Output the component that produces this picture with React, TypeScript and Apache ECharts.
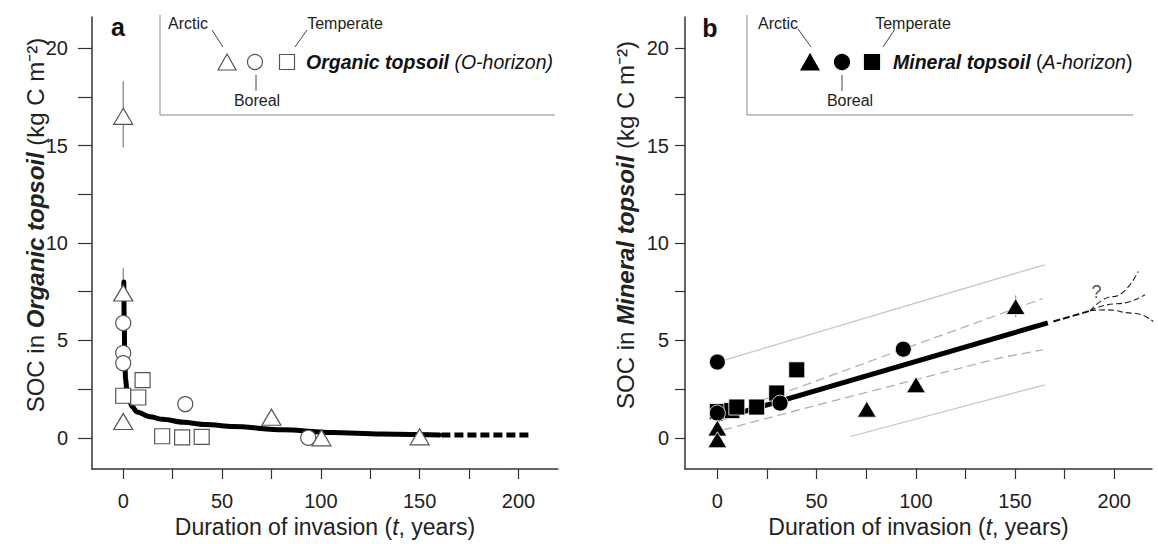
import React, { useEffect, useRef } from 'react';
import * as echarts from 'echarts';

const FONT = "'Liberation Sans', Arial, Helvetica, sans-serif";

// Tick values
const xTickLabels = [0, 50, 100, 150, 200];
const xTickMarks = [0, 25, 50, 75, 100, 125, 150, 175, 200];
const yTickLabels = [0, 5, 10, 15, 20];
const yTickMarks = [0, 2.5, 5, 7.5, 10, 12.5, 15, 17.5, 20];

// Panel a: Organic topsoil (O-horizon) — [t, SOC]
const orgArctic = [[0, 16.5], [0, 7.43], [0, 0.84], [75, 1.06], [100.3, 0.0], [150, 0.05]];
const orgBoreal = [[0, 5.89], [0, 4.35], [0, 3.83], [31.4, 1.73], [93.6, 0.0]];
const orgTemperate = [[0, 2.16], [7.6, 2.07], [9.8, 2.96], [19.7, 0.08], [29.8, 0.02], [39.7, 0.05]];
const orgErrorBars = [[0, 14.9, 18.3], [0, 6.2, 8.7]]; // [t, low, high]
const orgFitSolid = [
  [0.3, 8.0], [0.5, 6.0], [0.8, 4.0], [1.2, 3.0], [1.8, 2.5], [3, 1.95], [4.5, 1.6],
  [7, 1.33], [13.5, 1.08], [20, 0.95], [30.4, 0.8], [42, 0.68], [55.6, 0.58],
  [81, 0.41], [106, 0.27], [130, 0.2], [160, 0.15],
];
const orgFitDashed = [[161, 0.15], [206, 0.15]];

// Panel b: Mineral topsoil (A-horizon) — [t, SOC]
const minArctic = [[0, 0.5], [0, -0.1], [75.3, 1.47], [100.1, 2.72], [150.3, 6.74]];
const minBoreal = [[0, 3.89], [0, 1.27], [31.6, 1.78], [93.7, 4.55]];
const minTemperate = [[0, 1.35], [7.3, 1.4], [9.8, 1.58], [19.8, 1.58], [29.9, 2.3], [40, 3.49]];
const minErrorBars = [[150.3, 6.2, 7.3]];
const minFit = [[0, 0.95], [166.5, 5.9]];
const minFitExtension = [[169.3, 5.97], [187.8, 6.52]];
const minFanUpper = [[187.8, 6.52], [199.5, 7.25], [212.1, 8.54]];
const minFanMiddle = [[187.8, 6.52], [201.2, 6.88], [215.5, 7.34]];
const minFanLower = [[187.8, 6.52], [196.2, 6.57], [209.6, 6.4], [219.6, 5.97]];
const minConfUpper = [[3, 1.25], [40, 2.55], [94, 4.57], [164, 7.15]];
const minConfLower = [[3, 0.41], [57, 1.86], [142, 4.09], [164, 4.52]];
const minPredUpper = [[4, 4.0], [142, 8.2], [165, 8.88]];
const minPredLower = [[67, 0.07], [165, 2.72]];
const questionMark = [[191, 7.5]];

const AXIS_COLOR = '#333';

function makeX(gridIndex: number, min: number, max: number) {
  return {
    type: 'value',
    gridIndex,
    min,
    max,
    axisLine: { show: true, onZero: false, lineStyle: { color: AXIS_COLOR, width: 1.5 } },
    axisTick: { show: true, length: 10, customValues: xTickMarks, lineStyle: { color: AXIS_COLOR, width: 1.2 } },
    axisLabel: { customValues: xTickLabels, margin: 22, fontSize: 20, color: '#222', fontFamily: FONT },
    splitLine: { show: false },
    name: '{n|Duration of invasion (}{i|t}{n|, years)}',
    nameLocation: 'middle',
    nameGap: 45,
    nameTextStyle: {
      fontSize: 23,
      fontFamily: FONT,
      color: '#222',
      rich: {
        n: { fontSize: 23, fontFamily: FONT, color: '#222' },
        i: { fontSize: 23, fontFamily: FONT, color: '#222', fontStyle: 'italic' },
      },
    },
  };
}

function makeY(gridIndex: number, tickLen: number, margin: number) {
  return {
    type: 'value',
    gridIndex,
    min: -1.6,
    max: 21.6,
    axisLine: { show: true, onZero: false, lineStyle: { color: AXIS_COLOR, width: 1.5 } },
    axisTick: { show: true, length: tickLen, customValues: yTickMarks, lineStyle: { color: AXIS_COLOR, width: 1.2 } },
    axisLabel: { customValues: yTickLabels, margin, fontSize: 20, color: '#222', fontFamily: FONT },
    splitLine: { show: false },
  };
}

function errorBarSeries(axis: number, data: number[][], color: string) {
  return {
    type: 'custom',
    xAxisIndex: axis,
    yAxisIndex: axis,
    z: 1,
    silent: true,
    encode: { x: 0, y: [1, 2] },
    data,
    renderItem: (_params: any, api: any) => {
      const p1 = api.coord([api.value(0), api.value(1)]);
      const p2 = api.coord([api.value(0), api.value(2)]);
      return {
        type: 'line',
        shape: { x1: p1[0], y1: p1[1], x2: p2[0], y2: p2[1] },
        style: { stroke: color, lineWidth: 1.3 },
      };
    },
  };
}

function lineSeries(axis: number, data: number[][], style: any, z = 2, smooth: any = false) {
  return {
    type: 'line',
    xAxisIndex: axis,
    yAxisIndex: axis,
    data,
    showSymbol: false,
    symbol: 'none',
    smooth,
    smoothMonotone: 'x',
    silent: true,
    z,
    lineStyle: style,
  };
}

function scatterSeries(axis: number, data: number[][], symbol: string, size: any, itemStyle: any) {
  return {
    type: 'scatter',
    xAxisIndex: axis,
    yAxisIndex: axis,
    data,
    symbol,
    symbolSize: size,
    itemStyle,
    z: 4,
    silent: true,
  };
}

const hollow = { color: '#ffffff', borderColor: '#555', borderWidth: 1.2, opacity: 1 };
const filled = { color: '#000000', borderColor: '#ffffff', borderWidth: 0.8, opacity: 1 };

function legendGroup(
  boxX: number, boxRight: number,
  triX: number, cirX: number, sqX: number,
  arcticX: number, temperateX: number, borealX: number,
  arcticLine: number[], temperateLine: number[], borealLineX: number,
  titleX: number, titleText: string, fillColor: string, strokeColor: string
) {
  const labelStyle = { fontSize: 16, fontFamily: FONT, fill: '#222', align: 'center', verticalAlign: 'middle' };
  return [
    { type: 'polyline', shape: { points: [[boxX, 15], [boxX, 115], [boxRight, 115]] }, style: { stroke: '#888', lineWidth: 1, fill: null } },
    { type: 'text', x: arcticX, y: 23, style: { ...labelStyle, text: 'Arctic' } },
    { type: 'text', x: temperateX, y: 23, style: { ...labelStyle, text: 'Temperate' } },
    { type: 'text', x: borealX, y: 100, style: { ...labelStyle, text: 'Boreal' } },
    { type: 'line', shape: { x1: arcticLine[0], y1: arcticLine[1], x2: arcticLine[2], y2: arcticLine[3] }, style: { stroke: '#444', lineWidth: 1 } },
    { type: 'line', shape: { x1: temperateLine[0], y1: temperateLine[1], x2: temperateLine[2], y2: temperateLine[3] }, style: { stroke: '#444', lineWidth: 1 } },
    { type: 'line', shape: { x1: borealLineX, y1: 75, x2: borealLineX, y2: 91 }, style: { stroke: '#444', lineWidth: 1 } },
    { type: 'polygon', shape: { points: [[triX, 54], [triX - 9, 70], [triX + 9, 70]] }, style: { fill: fillColor, stroke: strokeColor, lineWidth: 1.2 } },
    { type: 'circle', shape: { cx: cirX, cy: 62, r: 7.5 }, style: { fill: fillColor, stroke: strokeColor, lineWidth: 1.2 } },
    { type: 'rect', shape: { x: sqX - 7.5, y: 54.5, width: 15, height: 15 }, style: { fill: fillColor, stroke: strokeColor, lineWidth: 1.2 } },
    {
      type: 'text', x: titleX, y: 62,
      style: {
        text: titleText,
        align: 'left', verticalAlign: 'middle',
        fontSize: 19.5, fontFamily: FONT, fill: '#111',
        rich: {
          bi: { fontSize: 19.5, fontFamily: FONT, fontWeight: 'bold', fontStyle: 'italic', fill: '#111' },
          i: { fontSize: 19.5, fontFamily: FONT, fontStyle: 'italic', fill: '#111' },
          n: { fontSize: 19.5, fontFamily: FONT, fill: '#111' },
        },
      },
    },
  ];
}

function yTitle(x: number, label: string) {
  return {
    type: 'text',
    x,
    y: 225,
    rotation: Math.PI / 2,
    style: {
      text: `{n|SOC in }{b|${label}}{n| (kg C m⁻²)}`,
      align: 'center',
      verticalAlign: 'middle',
      fontSize: 24,
      fontFamily: FONT,
      fill: '#222',
      rich: {
        n: { fontSize: 24, fontFamily: FONT, fill: '#222' },
        b: { fontSize: 24, fontFamily: FONT, fill: '#222', fontWeight: 'bold', fontStyle: 'italic' },
      },
    },
  };
}

export default function App() {
  const ref = useRef<HTMLDivElement>(null);

  useEffect(() => {
    if (!ref.current) return;
    const chart = echarts.init(ref.current, null, { renderer: 'svg' });

    const option: any = {
      animation: false,
      backgroundColor: '#ffffff',
      grid: [
        { left: 92, top: 17, width: 466, height: 452 },
        { left: 685, top: 17, width: 467, height: 452 },
      ],
      xAxis: [makeX(0, -15.8, 220), makeX(1, -16.3, 219)],
      yAxis: [makeY(0, 14, 24), makeY(1, 10, 16)],
      series: [
        // Panel a
        errorBarSeries(0, orgErrorBars, '#888'),
        lineSeries(0, orgFitSolid, { color: '#000', width: 5, cap: 'round', join: 'round' }, 2, 0.3),
        lineSeries(0, orgFitDashed, { color: '#000', width: 5, type: [9, 4], cap: 'butt' }, 2),
        scatterSeries(0, orgTemperate, 'rect', 15, hollow),
        scatterSeries(0, orgBoreal, 'circle', 15, hollow),
        scatterSeries(0, orgArctic, 'triangle', [19, 16], hollow),
        // Panel b
        lineSeries(1, minPredUpper, { color: '#c4c4c4', width: 1.2 }, 1),
        lineSeries(1, minPredLower, { color: '#c4c4c4', width: 1.2 }, 1),
        lineSeries(1, minConfUpper, { color: '#b0b0b0', width: 1.3, type: [9, 5] }, 1),
        lineSeries(1, minConfLower, { color: '#b0b0b0', width: 1.3, type: [9, 5] }, 1),
        errorBarSeries(1, minErrorBars, '#999'),
        lineSeries(1, minFit, { color: '#000', width: 5, cap: 'butt' }, 2),
        lineSeries(1, minFitExtension, { color: '#111', width: 2, type: [7, 3] }, 2),
        lineSeries(1, minFanUpper, { color: '#222', width: 1.1, type: [6, 3] }, 2, true),
        lineSeries(1, minFanMiddle, { color: '#222', width: 1.1, type: [6, 3] }, 2, true),
        lineSeries(1, minFanLower, { color: '#222', width: 1.1, type: [6, 3] }, 2, true),
        scatterSeries(1, minTemperate, 'rect', 16, filled),
        scatterSeries(1, minBoreal, 'circle', 16, filled),
        scatterSeries(1, minArctic, 'triangle', [19, 16], filled),
        {
          type: 'scatter',
          xAxisIndex: 1,
          yAxisIndex: 1,
          data: questionMark,
          symbolSize: 1,
          itemStyle: { color: 'transparent' },
          silent: true,
          label: { show: true, position: 'inside', formatter: '?', fontSize: 18, fontFamily: FONT, color: '#222' },
        },
      ],
      graphic: [
        { type: 'text', x: 118, y: 27, style: { text: 'a', fontSize: 25, fontWeight: 'bold', fontFamily: FONT, fill: '#111', align: 'center', verticalAlign: 'middle' } },
        { type: 'text', x: 710, y: 28, style: { text: 'b', fontSize: 25, fontWeight: 'bold', fontFamily: FONT, fill: '#111', align: 'center', verticalAlign: 'middle' } },
        yTitle(35, 'Organic topsoil'),
        yTitle(625, 'Mineral topsoil'),
        ...legendGroup(160, 555, 227, 255, 287, 188, 345, 257, [212, 30, 223, 47], [307, 30, 295, 47], 256,
          306, '{bi|Organic topsoil}{i| (O-horizon)}', '#ffffff', '#555'),
        ...legendGroup(747, 1133, 810, 842, 872, 778, 913, 850, [798, 29, 811, 47], [895, 29, 883, 47], 842,
          893, '{bi|Mineral topsoil}{n| (}{i|A-horizon}{n|)}', '#000000', '#000000'),
      ],
    };

    chart.setOption(option);
    return () => {
      chart.dispose();
    };
  }, []);

  return (
    <div
      ref={ref}
      style={{ position: 'absolute', left: 0, top: 0, width: 1158, height: 544, background: '#fff' }}
    />
  );
}
